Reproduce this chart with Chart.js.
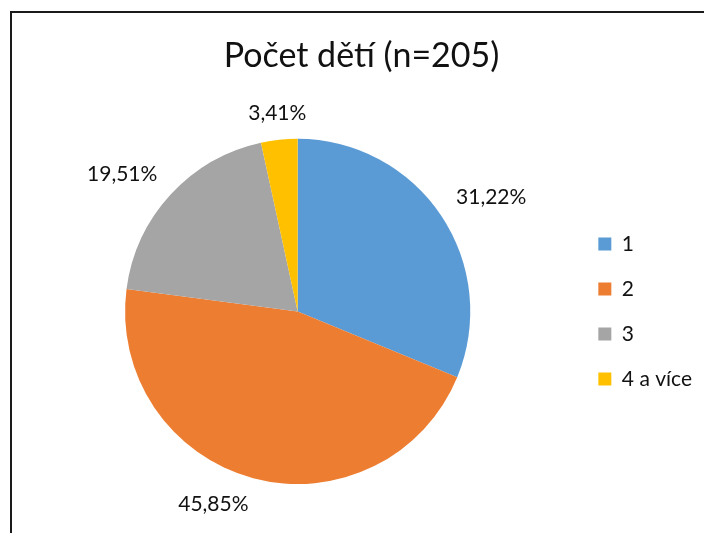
<!DOCTYPE html>
<html>
<head>
<meta charset="utf-8">
<script src="https://cdn.jsdelivr.net/npm/chart.js@4"></script>
<style>
    html, body { margin: 0; padding: 0; background: #fff; }
    #frame {
        position: absolute;
        left: 10px;
        top: 11px;
        width: 692px;
        height: 520px;
        border-left: 2px solid #1a1a1a;
        border-top: 2px solid #1a1a1a;
    }
</style>
</head>
<body>
<div id="frame"><canvas id="childrenChart"></canvas></div>
<script>
// Data
const categories = ['1', '2', '3', '4 a více'];
const shares = [31.22, 45.85, 19.51, 3.41];
const sliceColors = ['#5B9BD5', '#ED7D31', '#A5A5A5', '#FFC000'];
const chartTitle = 'Počet dětí (n=205)';

const FONT = "Lato, 'Open Sans', sans-serif";
const LABEL_SIZE = 21;

// Percent labels outside the slices (Excel style "31,22%"),
// the nearest corner of the label sits just outside the slice middle
const outsideLabels = {
    id: 'outsideLabels',
    afterDatasetsDraw(chart) {
        const ctx = chart.ctx;
        const meta = chart.getDatasetMeta(0);
        ctx.save();
        ctx.font = LABEL_SIZE + 'px ' + FONT;
        ctx.fillStyle = '#111';
        ctx.textBaseline = 'middle';
        meta.data.forEach((arc, i) => {
            const p = arc.getProps(['x', 'y', 'startAngle', 'endAngle', 'outerRadius'], true);
            const mid = (p.startAngle + p.endAngle) / 2;
            const r = p.outerRadius + 18;
            const cos = Math.cos(mid);
            const sin = Math.sin(mid);
            const x = p.x + cos * r;
            const y = p.y + sin * r + (sin >= 0 ? 1 : -1) * LABEL_SIZE * 0.4;
            ctx.textAlign = Math.abs(cos) < 0.2 ? 'center' : cos > 0 ? 'left' : 'right';
            const text = shares[i].toFixed(2).replace('.', ',') + '%';
            ctx.fillText(text, x, y);
        });
        ctx.restore();
    }
};

new Chart(document.getElementById('childrenChart'), {
    type: 'pie',
    data: {
        labels: categories,
        datasets: [{
            data: shares,
            backgroundColor: sliceColors,
            borderWidth: 0
        }]
    },
    plugins: [outsideLabels],
    options: {
        responsive: true,
        maintainAspectRatio: false,
        animation: false,
        layout: {
            padding: { left: 9, right: 2, top: 0, bottom: 49 }
        },
        plugins: {
            title: {
                display: true,
                text: chartTitle,
                color: '#111',
                font: { family: FONT, size: 34, weight: 'normal' },
                padding: { top: 23, bottom: 62 }
            },
            legend: {
                position: 'right',
                fullSize: false,
                labels: {
                    color: '#111',
                    font: { family: FONT, size: 21 },
                    boxWidth: 13,
                    boxHeight: 13,
                    padding: 24
                }
            },
            tooltip: { enabled: false }
        }
    }
});
</script>
</body>
</html>
